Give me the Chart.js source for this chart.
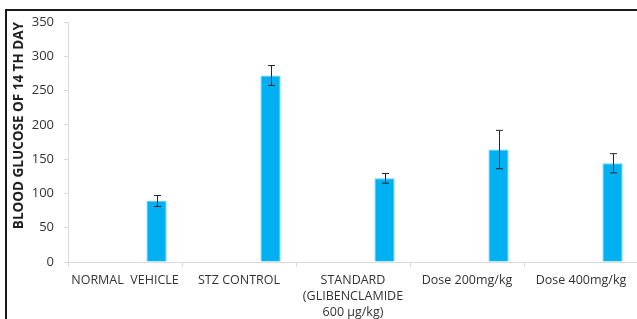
<!DOCTYPE html>
<html>
<head>
<meta charset="utf-8">
<script src="https://cdn.jsdelivr.net/npm/chart.js@4"></script>
<style>
  html, body { margin: 0; padding: 0; background: #fff; overflow: hidden; }
  #frame { position: absolute; left: 5px; top: 9px; width: 700px; height: 400px;
           border-left: 2px solid #1a1a1a; border-top: 2px solid #1a1a1a; }
  #wrap { position: absolute; left: 0; top: 0; width: 640px; height: 335px; }
</style>
</head>
<body>
<div id="frame"></div>
<div id="wrap"><canvas id="grafico"></canvas></div>
<script>
const grupos = [
  'NORMAL  VEHICLE',
  'STZ CONTROL',
  ['STANDARD', '(GLIBENCLAMIDE', '600 µg/kg)'],
  'Dose 200mg/kg',
  'Dose 400mg/kg'
];
const glucosa = [89, 272, 122, 164, 144];
const errorEstandar = [8, 14.5, 7, 28, 14];
const ticksY = [0, 50, 100, 150, 200, 250, 300, 350];

const barrasError = {
  id: 'barrasError',
  afterDatasetsDraw(chart) {
    const ctx = chart.ctx;
    const meta = chart.getDatasetMeta(2);
    const y = chart.scales.y;
    ctx.save();
    ctx.strokeStyle = '#262626';
    ctx.lineWidth = 1;
    meta.data.forEach((barra, i) => {
      const x = Math.round(barra.x) + 0.5;
      const arriba = y.getPixelForValue(glucosa[i] + errorEstandar[i]);
      const abajo = y.getPixelForValue(glucosa[i] - errorEstandar[i]);
      ctx.beginPath();
      ctx.moveTo(x, arriba);
      ctx.lineTo(x, abajo);
      ctx.moveTo(x - 3.5, arriba);
      ctx.lineTo(x + 3.5, arriba);
      ctx.moveTo(x - 3.5, abajo);
      ctx.lineTo(x + 3.5, abajo);
      ctx.stroke();
    });
    ctx.restore();
  }
};

new Chart(document.getElementById('grafico'), {
  type: 'bar',
  data: {
    labels: grupos,
    datasets: [
      { label: 'a', data: grupos.map(() => null), backgroundColor: 'transparent' },
      { label: 'b', data: grupos.map(() => null), backgroundColor: 'transparent' },
      {
        label: 'Glucosa',
        data: glucosa,
        backgroundColor: '#00b0f0',
        borderColor: '#5fd0f8',
        borderWidth: 1,
        borderSkipped: 'bottom'
      }
    ]
  },
  options: {
    responsive: true,
    maintainAspectRatio: false,
    animation: false,
    categoryPercentage: 0.83,
    barPercentage: 0.64,
    layout: { padding: { top: 22, right: 2, left: 0, bottom: 0 } },
    plugins: {
      legend: { display: false },
      tooltip: { enabled: false }
    },
    scales: {
      x: {
        afterFit: s => { s.height = 73; },
        grid: { offset: true, drawOnChartArea: false, color: '#d9d9d9', tickLength: 5, tickColor: '#d9d9d9' },
        border: { color: '#d9d9d9' },
        ticks: {
          color: '#333333',
          font: { family: 'Open Sans', size: 12.5, lineHeight: 1.3 },
          padding: 5,
          maxRotation: 0,
          autoSkip: false
        }
      },
      y: {
        min: 0,
        max: 350,
        afterFit: s => { s.width = 68; },
        afterBuildTicks: s => { s.ticks = ticksY.map(v => ({ value: v })); },
        grid: { drawOnChartArea: false, color: '#d9d9d9', tickLength: 4, tickColor: '#d9d9d9' },
        border: { color: '#d9d9d9' },
        ticks: {
          color: '#333333',
          font: { family: 'Open Sans', size: 13 },
          padding: 10
        },
        title: {
          display: true,
          text: 'BLOOD GLUCOSE OF 14 TH DAY',
          align: 'end',
          color: '#1f1f1f',
          font: { family: 'Open Sans', size: 13.5, weight: 'bold' },
          padding: { top: 11, bottom: 0 }
        }
      }
    }
  },
  plugins: [barrasError]
});
</script>
</body>
</html>
